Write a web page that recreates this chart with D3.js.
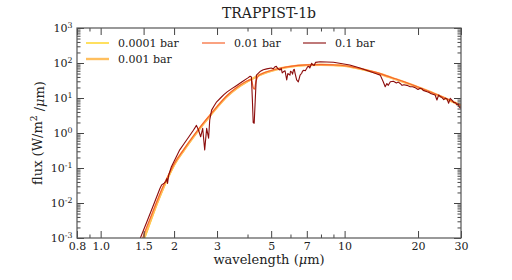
<!DOCTYPE html>
<html>
<head>
<meta charset="utf-8">
<script src="https://cdn.jsdelivr.net/npm/d3@7"></script>
<style>
body { margin: 0; background: #fff; }
svg text { font-family: "DejaVu Serif", serif; fill: #222; }
</style>
</head>
<body>
<svg class="chart"></svg>
<script>
// series labels (surface pressure)
const pressures = ["0.0001 bar", "0.001 bar", "0.01 bar", "0.1 bar"];

// wavelength grid (µm) for the smooth low-pressure spectra
const waveSmooth = [1.4, 1.5, 1.6, 1.7, 1.8, 1.9, 2.0, 2.2, 2.4, 2.6, 2.8, 3.0, 3.3, 3.6, 4.0, 4.3, 4.6, 5.0, 5.5, 6.0,
  7.0, 8.0, 9.0, 10, 11, 12, 14, 16, 18, 20, 22, 25, 28, 30];
const flux0001 = [0.00015, 0.00079, 0.0028, 0.0089, 0.024, 0.056, 0.117, 0.32, 0.75, 1.57, 2.96, 5.3, 11, 18.3, 29.5, 38.5, 48, 59, 70, 78,
  86, 88, 86, 82, 73, 64, 48, 35, 26.5, 20, 15.5, 10.7, 7.5, 6.0];
const flux001 = [0.00019, 0.00092, 0.0032, 0.0098, 0.026, 0.06, 0.124, 0.335, 0.78, 1.62, 3.05, 5.45, 11.3, 18.7, 30.1, 39.2, 48.8, 59.8, 70.8, 78.8,
  86.8, 88.8, 86.8, 82.6, 73.6, 64.6, 48.5, 35.4, 26.8, 20.2, 15.7, 10.8, 7.6, 6.05];

// 0.01 bar spectrum (small CO2 dip near 4.3 µm)
const wave001 = [1.4, 1.5, 1.6, 1.7, 1.8, 1.9, 2.0, 2.2, 2.4, 2.6, 2.8, 3.0, 3.3, 3.6, 4.0, 4.15, 4.22, 4.27, 4.33, 4.45, 4.6,
  5.0, 5.5, 6.0, 7.0, 8.0, 9.0, 10, 11, 12, 14, 15, 16, 18, 20, 22, 25, 28, 30];
const flux01 = [0.00028, 0.0012, 0.0038, 0.011, 0.029, 0.064, 0.13, 0.35, 0.82, 1.7, 3.2, 5.7, 11.8, 19.5, 31, 34, 20, 18, 30, 44, 50,
  61, 72, 80, 88, 90, 88, 83.5, 74.5, 65.5, 49.5, 42, 36, 27.2, 20.6, 15.9, 11, 7.7, 6.1];

// 0.1 bar spectrum, with the absorption bands
const wave1 = [1.4, 1.455, 1.55, 1.65, 1.75, 1.78, 1.82, 1.85, 1.87, 1.88, 1.9, 1.95, 2.05, 2.11, 2.2, 2.3, 2.4, 2.47, 2.52, 2.57,
  2.62, 2.67, 2.72, 2.77, 2.8, 2.85, 2.92, 2.99, 3.1, 3.2, 3.3, 3.45, 3.6, 3.8, 4.0, 4.1, 4.15, 4.19, 4.22, 4.26,
  4.3, 4.35, 4.5, 4.64, 4.8, 5.0, 5.1, 5.18, 5.25, 5.3, 5.37, 5.43, 5.5, 5.55, 5.61, 5.7, 5.79, 5.85, 5.97, 6.0,
  6.07, 6.12, 6.17, 6.22, 6.27, 6.36, 6.46, 6.57, 6.67, 6.72, 6.8, 6.9, 7.0, 7.05, 7.15, 7.2, 7.33, 7.4, 7.5, 7.6,
  7.93, 9.0, 10.5, 11.56, 12.7, 13.5, 14.0, 14.4, 14.67, 14.9, 15.1, 15.4, 15.85, 16.3, 16.6, 16.9, 17.2, 17.5, 18.0, 18.58,
  19.0, 19.5, 20.0, 20.4, 20.8, 21.0, 21.8, 22.2, 22.5, 23.0, 23.5, 23.9, 24.3, 24.7, 25.0, 25.5, 25.9, 26.3, 26.7, 27.1,
  27.6, 28.0, 28.5, 28.9, 29.2, 29.5, 30];
const flux1 = [0.0005, 0.001, 0.003, 0.0091, 0.026, 0.033, 0.037, 0.041, 0.05, 0.036, 0.062, 0.109, 0.22, 0.33, 0.5, 0.78, 1.2, 1.65, 1.2, 0.78,
  1.36, 0.33, 1.36, 0.71, 2.35, 4.5, 6.0, 7.8, 10, 12.5, 15, 18.5, 22.5, 29, 37, 42, 40, 8, 2.0, 1.9,
  8, 45, 57, 64, 68, 72, 68, 78, 80, 72, 66, 63, 70, 52, 56, 60, 33, 50, 45, 58,
  55, 48, 63, 66, 50, 33, 29, 45, 51, 58, 62, 60, 71, 78, 80, 72, 98, 90, 85, 104,
  109, 105, 88, 72, 57, 49, 45, 29, 21, 26, 23, 29, 30, 27, 28.5, 26, 23, 24, 23, 21,
  21, 19.5, 17.5, 19, 18, 16.5, 15, 14.5, 13.5, 12.8, 12.2, 8.8, 12.2, 10.8, 10.5, 9.0, 9.8, 9.3, 7.1, 9.8,
  8.6, 7.5, 7.3, 6.3, 6.8, 5.5, 5.1];

// axis ticks
const xMajor = [0.8, 1.0, 1.5, 2, 3, 5, 7, 10, 20, 30];
const xMinor = [0.9, 4, 6, 8, 9];
const yMajor = [1e-3, 1e-2, 1e-1, 1e0, 1e1, 1e2, 1e3];

const width = 512, height = 280;
const mLeft = 77, mRight = 461, mTop = 28, mBottom = 238;

const svg = d3.select(".chart").attr("width", width).attr("height", height);

const x = d3.scaleLog().domain([0.8, 30]).range([mLeft, mRight]);
const y = d3.scaleLog().domain([1e-3, 1e3]).range([mBottom, mTop]);

// minor y ticks 2..9 of each decade
const yMinor = [];
for (let e = -3; e < 3; e++) for (let k = 2; k < 10; k++) yMinor.push(k * Math.pow(10, e));

svg.append("clipPath").attr("id", "plot-clip")
  .append("rect").attr("x", mLeft).attr("y", mTop).attr("width", mRight - mLeft).attr("height", mBottom - mTop);

// Lines
const line = d3.line().x(d => x(d[0])).y(d => y(d[1]));
const series = [
  { name: pressures[0], wave: waveSmooth, flux: flux0001, color: "#ffd31a", w: 1.4, curve: d3.curveMonotoneX },
  { name: pressures[1], wave: waveSmooth, flux: flux001, color: "#ffbf5e", w: 2.4, curve: d3.curveMonotoneX },
  { name: pressures[2], wave: wave001, flux: flux01, color: "#f7642c", w: 1.2, curve: d3.curveMonotoneX },
  { name: pressures[3], wave: wave1, flux: flux1, color: "#8b0c0c", w: 1.1, curve: d3.curveLinear }
];

const plot = svg.append("g").attr("clip-path", "url(#plot-clip)");
series.forEach(s => {
  plot.append("path")
    .datum(s.wave.map((w, i) => [w, s.flux[i]]))
    .attr("fill", "none")
    .attr("stroke", s.color)
    .attr("stroke-width", s.w)
    .attr("stroke-linejoin", "round")
    .attr("d", line.curve(s.curve));
});

// Axes (ticks pointing inward, mirrored on top/right)
function styleAxis(g) {
  g.select(".domain").remove();
  g.selectAll(".tick line").attr("stroke", "#444");
  g.selectAll(".tick text").attr("fill", "#222").attr("font-size", 11).attr("font-family", "DejaVu Serif, serif");
}
const xFmt = d => d < 1.6 ? d3.format(".1f")(d) : d3.format("d")(d);

svg.append("g").attr("transform", `translate(0,${mBottom})`)
  .call(d3.axisBottom(x).tickValues(xMajor).tickSizeInner(-7).tickSizeOuter(0).tickPadding(4).tickFormat(xFmt))
  .call(styleAxis);
svg.append("g").attr("transform", `translate(0,${mBottom})`)
  .call(d3.axisBottom(x).tickValues(xMinor).tickSizeInner(-3.5).tickSizeOuter(0).tickFormat(""))
  .call(styleAxis);
svg.append("g").attr("transform", `translate(0,${mTop})`)
  .call(d3.axisTop(x).tickValues(xMajor).tickSizeInner(-7).tickSizeOuter(0).tickFormat(""))
  .call(styleAxis);
svg.append("g").attr("transform", `translate(0,${mTop})`)
  .call(d3.axisTop(x).tickValues(xMinor).tickSizeInner(-3.5).tickSizeOuter(0).tickFormat(""))
  .call(styleAxis);

const yAxis = svg.append("g").attr("transform", `translate(${mLeft},0)`)
  .call(d3.axisLeft(y).tickValues(yMajor).tickSizeInner(-7).tickSizeOuter(0).tickPadding(4.5))
  .call(styleAxis);
yAxis.selectAll(".tick text").each(function(d) {
  const t = d3.select(this);
  const e = Math.round(Math.log10(d));
  t.text("10");
  t.append("tspan").attr("dy", "-0.55em").attr("font-size", "0.72em").text(e);
});
svg.append("g").attr("transform", `translate(${mLeft},0)`)
  .call(d3.axisLeft(y).tickValues(yMinor).tickSizeInner(-3.5).tickSizeOuter(0).tickFormat(""))
  .call(styleAxis);
svg.append("g").attr("transform", `translate(${mRight},0)`)
  .call(d3.axisRight(y).tickValues(yMajor).tickSizeInner(-7).tickSizeOuter(0).tickFormat(""))
  .call(styleAxis);
svg.append("g").attr("transform", `translate(${mRight},0)`)
  .call(d3.axisRight(y).tickValues(yMinor).tickSizeInner(-3.5).tickSizeOuter(0).tickFormat(""))
  .call(styleAxis);

// Frame
svg.append("rect")
  .attr("x", mLeft).attr("y", mTop).attr("width", mRight - mLeft).attr("height", mBottom - mTop)
  .attr("fill", "none").attr("stroke", "#555").attr("stroke-width", 1.2);

// Title and labels
svg.append("text").attr("x", (mLeft + mRight) / 2).attr("y", 18)
  .attr("text-anchor", "middle").attr("font-size", 14).text("TRAPPIST-1b");

const xLabel = svg.append("text").attr("x", (mLeft + mRight) / 2).attr("y", 264)
  .attr("text-anchor", "middle").attr("font-size", 13);
xLabel.append("tspan").text("wavelength (");
xLabel.append("tspan").attr("font-style", "italic").text("\u03bc");
xLabel.append("tspan").text("m)");

const yLabel = svg.append("text")
  .attr("transform", `translate(42,${(mTop + mBottom) / 2}) rotate(-90)`)
  .attr("text-anchor", "middle").attr("font-size", 13);
yLabel.append("tspan").text("flux (W/m");
yLabel.append("tspan").attr("dy", "-0.5em").attr("font-size", "0.7em").text("2");
yLabel.append("tspan").attr("dy", "0.5em").text(" /");
yLabel.append("tspan").attr("font-style", "italic").text("\u03bc");
yLabel.append("tspan").text("m)");

// Legend: 3 columns, filled column by column
const legendCols = [86, 202, 303], legendRows = [43, 59];
const legend = svg.append("g");
series.forEach((s, i) => {
  const col = i < 2 ? 0 : i - 1, row = i < 2 ? i : 0;
  const lx = legendCols[col], ly = legendRows[row];
  legend.append("line").attr("x1", lx).attr("x2", lx + 23).attr("y1", ly).attr("y2", ly)
    .attr("stroke", s.color).attr("stroke-width", s.w);
  legend.append("text").attr("x", lx + 32).attr("y", ly).attr("dy", "0.35em")
    .attr("font-size", 11).text(s.name);
});
</script>
</body>
</html>
